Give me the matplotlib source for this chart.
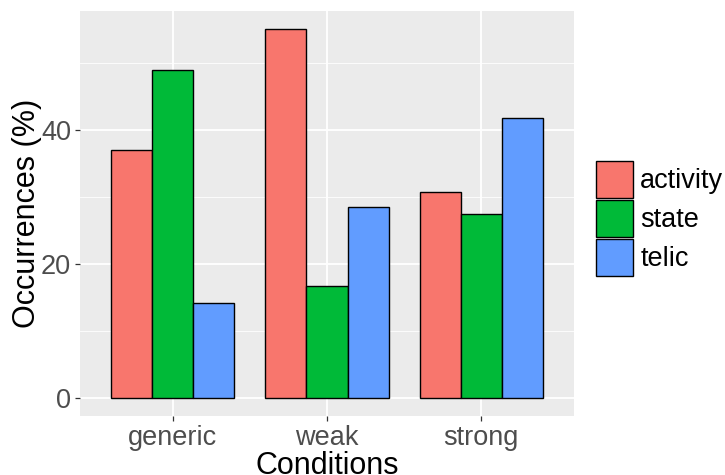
import numpy as np
import matplotlib
matplotlib.use("Agg")
import matplotlib.pyplot as plt
from matplotlib.patches import Patch
from matplotlib.ticker import MultipleLocator

plt.rcParams['font.family'] = ['Liberation Sans', 'DejaVu Sans']

conditions = ["generic", "weak", "strong"]
types = ["activity", "state", "telic"]
activity = [37.0, 55.0, 30.7]
state = [48.9, 16.6, 27.4]
telic = [14.1, 28.4, 41.7]
colors = ["#F8766D", "#00BA38", "#619CFF"]

fig = plt.figure(figsize=(7.25, 4.75), dpi=100)
ax = fig.add_axes([80 / 725, 1 - 416 / 475, 494 / 725, 405 / 475])
ax.set_facecolor("#EBEBEB")

x = np.arange(1, len(conditions) + 1)
w = 0.8 / 3
for i, (vals, c) in enumerate(zip([activity, state, telic], colors)):
    ax.bar(x + (i - 1) * w, vals, width=w, color=c, edgecolor="black",
           linewidth=1.0, zorder=3)

ymax = max(activity + state + telic)
ax.set_ylim(-0.05 * ymax, 1.05 * ymax)
ax.set_xlim(0.4, 3.6)
ax.yaxis.set_major_locator(MultipleLocator(20))
ax.yaxis.set_minor_locator(MultipleLocator(10))
ax.set_xticks(x)
ax.set_xticklabels(conditions)

ax.grid(which="major", color="white", linewidth=1.3, zorder=0)
ax.grid(which="minor", axis="y", color="white", linewidth=0.6, zorder=0)
ax.tick_params(axis="both", which="major", colors="#333333", length=3.5,
               width=0.9, labelsize=19.5, labelcolor="#4D4D4D", pad=3)
ax.tick_params(which="minor", length=0)
for s in ax.spines.values():
    s.set_visible(False)

ax.set_xlabel("Conditions", fontsize=22, labelpad=0)
ax.set_ylabel("Occurrences (%)", fontsize=22, labelpad=-1)

handles = [Patch(facecolor=c, edgecolor="black", linewidth=1.0) for c in colors]
fig.legend(handles, types, loc="center left", bbox_to_anchor=(596 / 725, 1 - 218.7 / 475),
           frameon=False, fontsize=19.5, handlelength=1.37, handleheight=1.73,
           labelspacing=0.07, handletextpad=0.26, borderpad=0, borderaxespad=0)

fig.savefig("out.png", dpi=100)
